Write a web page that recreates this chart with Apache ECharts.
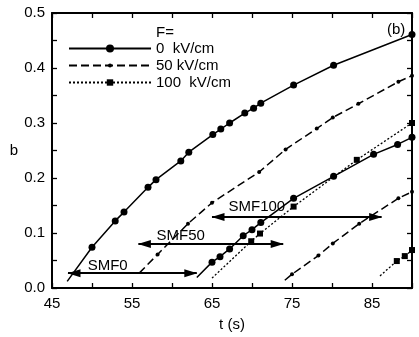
<!DOCTYPE html>
<html>
<head>
<meta charset="utf-8">
<script src="https://cdn.jsdelivr.net/npm/echarts@6/dist/echarts.min.js"></script>
<style>html,body{margin:0;padding:0;background:#fff}#c{width:419px;height:337px}</style>
</head>
<body>
<div id="c"></div>
<script>
// ---- data ----
const seriesNames = ['0  kV/cm', '50 kV/cm', '100  kV/cm'];

// F = 0 kV/cm, first and second curve
const t0a = [46.9, 50.0, 52.9, 54.0, 57.0, 58.0, 61.1, 62.1, 65.1, 66.1, 67.2, 69.1, 70.2, 71.1, 75.2, 80.2, 90.0];
const b0a = [0.012, 0.074, 0.122, 0.138, 0.183, 0.197, 0.231, 0.247, 0.279, 0.289, 0.300, 0.318, 0.327, 0.336, 0.369, 0.405, 0.461];
const t0b = [63.1, 65.0, 66.0, 67.2, 68.9, 70.0, 71.1, 75.2, 80.2, 85.2, 88.2, 90.0];
const b0b = [0.019, 0.047, 0.057, 0.071, 0.095, 0.106, 0.119, 0.163, 0.203, 0.243, 0.261, 0.274];

// F = 50 kV/cm
const t50a = [55.9, 58.2, 62.0, 65.0, 70.9, 74.2, 78.1, 80.1, 83.3, 88.3, 90.0];
const b50a = [0.027, 0.061, 0.117, 0.155, 0.211, 0.252, 0.290, 0.310, 0.335, 0.375, 0.386];
const t50b = [74.1, 75.0, 78.3, 80.1, 83.4, 88.3, 90.0];
const b50b = [0.014, 0.025, 0.059, 0.081, 0.117, 0.163, 0.175];

// F = 100 kV/cm
const t100a = [65.0, 69.9, 71.0, 75.2, 83.1, 90.0];
const b100a = [0.018, 0.085, 0.099, 0.148, 0.233, 0.300];
const t100b = [86.0, 88.1, 89.1, 90.0];
const b100b = [0.022, 0.049, 0.058, 0.069];

// SMF double arrows
const arrowNames = ['SMF0', 'SMF50', 'SMF100'];
const arrowStart = [47.0, 55.8, 65.0];
const arrowEnd = [63.1, 73.9, 86.2];
const arrowLevel = [0.027, 0.080, 0.129];
const arrowLabelT = [49.4, 58.0, 67.0];
const arrowLabelB = [0.041, 0.094, 0.147];

// axis ticks
const xMin = 45, xMax = 90, xStep = 5, xLabelStep = 10;
const yMin = 0, yMax = 0.5, yStep = 0.05;

// ---- build chart ----
const FONT = 'Liberation Sans, Arial, Helvetica, sans-serif';
const FS = 15;
function seg(ts, bs) {
  return ts.map((t, i) => i === 0 ? { value: [t, bs[i]], symbol: 'none' } : { value: [t, bs[i]] });
}
const styles = [
  { symbol: 'circle', symbolSize: 7, lineStyle: { color: '#000', width: 1.5, type: 'solid' } },
  { symbol: 'circle', symbolSize: 4, lineStyle: { color: '#000', width: 1.5, type: [8, 4] } },
  { symbol: 'rect', symbolSize: 6, lineStyle: { color: '#000', width: 1.3, type: [2, 2] } }
];
const segs = [[seg(t0a, b0a), seg(t0b, b0b)], [seg(t50a, b50a), seg(t50b, b50b)], [seg(t100a, b100a), seg(t100b, b100b)]];
const series = [];
segs.forEach((pair, k) => {
  pair.forEach(d => {
    series.push({
      type: 'line', name: seriesNames[k], data: d, animation: false,
      symbol: styles[k].symbol, symbolSize: styles[k].symbolSize, showSymbol: true, showAllSymbol: true,
      itemStyle: { color: '#000' }, lineStyle: styles[k].lineStyle, z: 3
    });
  });
});
series.push({
  type: 'scatter', animation: false, symbolSize: 1, itemStyle: { opacity: 0 }, z: 5,
  data: arrowNames.map((n, i) => ({ value: [arrowLabelT[i], arrowLabelB[i]], name: n })),
  label: { show: true, position: 'right', distance: 0, formatter: p => p.name, color: '#000', fontFamily: FONT, fontSize: FS, opacity: 1 },
  markLine: {
    silent: true, animation: false, precision: 3,
    symbol: ['triangle', 'triangle'], symbolSize: [8, 13], symbolOffset: [[0, 6], [0, 6]],
    label: { show: false },
    lineStyle: { color: '#000', width: 2, type: 'solid', opacity: 1 },
    emphasis: { disabled: true },
    data: arrowNames.map((n, i) => [{ coord: [arrowStart[i], arrowLevel[i]] }, { coord: [arrowEnd[i], arrowLevel[i]] }])
  }
});

const axisCommon = {
  axisLine: { show: true, onZero: false, lineStyle: { color: '#000', width: 2 } },
  axisTick: { show: true, inside: true, length: 5, lineStyle: { color: '#000', width: 1.3 } },
  splitLine: { show: false }
};
const legendHeights = [10, 5, 8];
const legendTops = [41, 58, 75];
const legends = seriesNames.map((n, i) => ({
  data: [n], left: 68, top: legendTops[i], padding: 0, itemWidth: 82, itemHeight: legendHeights[i],
  selectedMode: false, textStyle: { color: '#000', fontFamily: FONT, fontSize: FS }
}));

const option = {
  backgroundColor: '#fff',
  animation: false,
  grid: { left: 52, right: 7, top: 13, bottom: 41, containLabel: false },
  legend: legends,
  graphic: [
    { type: 'text', left: 156, top: 25, style: { text: 'F=', font: FS + 'px ' + FONT, fill: '#000' } },
    { type: 'text', left: 387, top: 22, style: { text: '(b)', font: FS + 'px ' + FONT, fill: '#000' } }
  ],
  xAxis: [
    Object.assign({
      type: 'value', min: xMin, max: xMax, interval: xStep, position: 'bottom',
      name: 't (s)', nameLocation: 'middle', nameGap: 29,
      nameTextStyle: { color: '#000', fontFamily: FONT, fontSize: FS },
      axisLabel: { color: '#000', fontFamily: FONT, fontSize: FS, margin: 8,
        formatter: v => (Math.round(v - xMin) % xLabelStep === 0 ? String(v) : '') }
    }, axisCommon),
    Object.assign({ type: 'value', min: xMin, max: xMax, interval: xStep, position: 'top', axisLabel: { show: false } }, axisCommon)
  ],
  yAxis: [
    Object.assign({
      type: 'value', min: yMin, max: yMax, interval: yStep, position: 'left',
      name: 'b', nameLocation: 'middle', nameGap: 34, nameRotate: 0,
      nameTextStyle: { color: '#000', fontFamily: FONT, fontSize: FS },
      axisLabel: { color: '#000', fontFamily: FONT, fontSize: FS, margin: 7,
        formatter: v => (Math.round(v * 100) % 10 === 0 ? v.toFixed(1) : '') }
    }, axisCommon),
    Object.assign({ type: 'value', min: yMin, max: yMax, interval: yStep, position: 'right', axisLabel: { show: false } }, axisCommon)
  ],
  series: series
};
const chart = echarts.init(document.getElementById('c'), null, { renderer: 'canvas' });
chart.setOption(option);
</script>
</body>
</html>
